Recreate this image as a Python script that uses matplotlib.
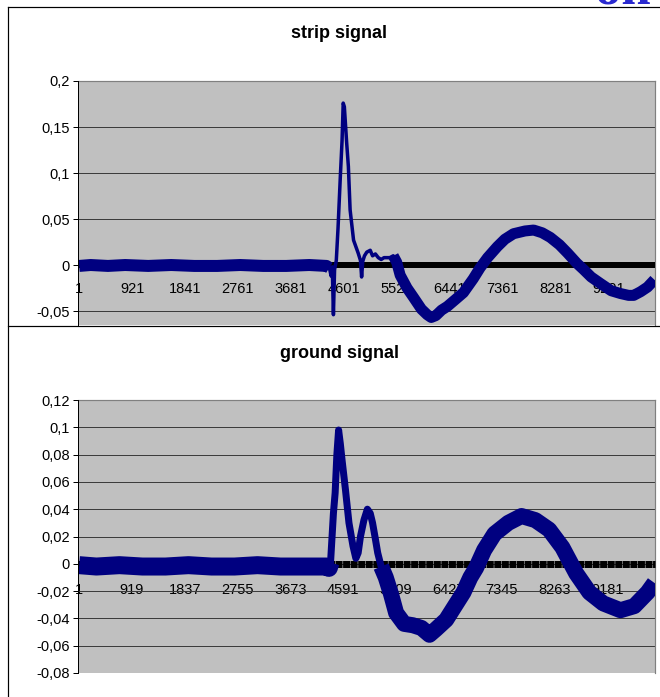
import matplotlib
matplotlib.use('Agg')
import matplotlib.pyplot as plt
from matplotlib.lines import Line2D

# ---------------- data ----------------
strip_idx = [1, 200, 500, 800, 1200, 1600, 2000, 2400, 2800, 3200, 3600, 4000, 4300,
             4350, 4380, 4400, 4420, 4440, 4470, 4500, 4540, 4570, 4590, 4610, 4650,
             4680, 4710, 4770, 4850, 4890, 4910, 4930, 4960, 5000, 5060, 5100, 5150,
             5200, 5250, 5300, 5400, 5460, 5520, 5580, 5700, 5810, 5950, 6050, 6120,
             6200, 6300, 6400, 6550, 6680, 6850, 6970, 7100, 7270, 7400, 7550, 7750,
             7900, 8050, 8190, 8350, 8490, 8650, 8770, 8900, 9060, 9250, 9410, 9550,
             9640, 9760, 9880, 10000]
strip_val = [-0.001, 0.000, -0.001, 0.000, -0.001, 0.000, -0.001, -0.001, 0.000, -0.001,
             -0.001, 0.000, -0.001,
             -0.003, -0.012, -0.002, -0.054, -0.005, 0.005, 0.040, 0.096, 0.135, 0.176,
             0.172, 0.133, 0.107, 0.060, 0.027, 0.013, 0.005, -0.013, 0.004, 0.010,
             0.014, 0.016, 0.010, 0.012, 0.008, 0.006, 0.008, 0.008, 0.010, 0.003,
             -0.011, -0.025, -0.035, -0.048, -0.054, -0.057, -0.055, -0.049, -0.045,
             -0.037, -0.030, -0.015, -0.003, 0.008, 0.020, 0.028, 0.034, 0.037, 0.038,
             0.035, 0.030, 0.022, 0.013, 0.002, -0.005, -0.013, -0.020, -0.028, -0.031,
             -0.033, -0.033, -0.029, -0.024, -0.016]

ground_idx = [1, 300, 700, 1100, 1500, 1900, 2300, 2700, 3100, 3500, 3900, 4300,
              4340, 4370, 4420, 4450, 4480, 4510, 4540, 4570, 4630, 4690, 4760, 4810,
              4850, 4890, 4950, 5010, 5060, 5100, 5150, 5190, 5250, 5330, 5420, 5510,
              5650, 5800, 5950, 6090, 6200, 6380, 6530, 6680, 6800, 6900, 7040, 7220,
              7460, 7690, 7930, 8170, 8400, 8640, 8870, 9110, 9410, 9650, 9880, 10000]
ground_val = [-0.001, -0.002, -0.001, -0.002, -0.002, -0.001, -0.002, -0.002, -0.001,
              -0.002, -0.002, -0.002,
              -0.003, 0.001, 0.037, 0.052, 0.080, 0.098, 0.088, 0.076, 0.054, 0.030,
              0.013, 0.004, 0.008, 0.020, 0.032, 0.040, 0.037, 0.030, 0.018, 0.008,
              -0.002, -0.010, -0.022, -0.036, -0.044, -0.045, -0.047, -0.052, -0.048,
              -0.041, -0.031, -0.021, -0.010, -0.003, 0.010, 0.022, 0.030, 0.035, 0.032,
              0.025, 0.012, -0.007, -0.021, -0.029, -0.034, -0.031, -0.021, -0.014]

strip_xticks = [1, 921, 1841, 2761, 3681, 4601, 5521, 6441, 7361, 8281, 9201]
ground_xticks = [1, 919, 1837, 2755, 3673, 4591, 5509, 6427, 7345, 8263, 9181]
strip_yticks = [-0.05, 0, 0.05, 0.1, 0.15, 0.2]
strip_ylabels = ['-0,05', '0', '0,05', '0,1', '0,15', '0,2']
ground_yticks = [-0.08, -0.06, -0.04, -0.02, 0, 0.02, 0.04, 0.06, 0.08, 0.1, 0.12]
ground_ylabels = ['-0,08', '-0,06', '-0,04', '-0,02', '0', '0,02', '0,04', '0,06',
                  '0,08', '0,1', '0,12']
titles = ['strip signal', 'ground signal']

# ---------------- figure ----------------
W, H = 660, 697
DPI = 100
plt.rcParams['font.family'] = ['Liberation Sans', 'DejaVu Sans']
fig = plt.figure(figsize=(W / DPI, H / DPI), dpi=DPI)
fig.patch.set_facecolor('white')

PX = 72.0 / DPI  # points per pixel
NAVY = '#000080'
GRID = '#3c3c3c'


def fx(px):
    return px / W


def fy(py):
    return 1 - py / H


def make_axes(top, bottom, ylim, yticks, ylabels, xticks, series_x, series_y,
              segments, zero_lw, zero_style, xpad):
    ax = fig.add_axes([fx(78), fy(bottom), (655 - 78) / W, (bottom - top) / H])
    ax.set_facecolor('#c0c0c0')
    ax.set_xlim(-20, 10010)
    ax.set_ylim(*ylim)
    ax.set_yticks(yticks)
    ax.set_yticklabels(ylabels)
    ax.set_xticks(xticks)
    ax.set_xticklabels([str(t) for t in xticks])
    ax.grid(axis='y', color=GRID, linewidth=1.0 * PX)
    ax.set_axisbelow(True)
    for s in ('top', 'right'):
        ax.spines[s].set_color('#808080')
        ax.spines[s].set_linewidth(1.2 * PX)
    ax.spines['left'].set_color('black')
    ax.spines['left'].set_linewidth(1.0 * PX)
    ax.spines['left'].set_zorder(5)
    ax.spines['bottom'].set_position(('data', 0))
    ax.spines['bottom'].set_color('black')
    ax.spines['bottom'].set_linewidth(zero_lw * PX)
    ax.spines['bottom'].set_linestyle(zero_style)
    ax.spines['bottom'].set_capstyle('butt')
    ax.spines['bottom'].set_zorder(2.5)
    ax.tick_params(axis='y', direction='out', length=5 * PX, width=1 * PX,
                   pad=2.5, labelsize=10.5, colors='black')
    ax.tick_params(axis='x', length=0, pad=xpad, labelsize=10.5, colors='black')
    for a, b, lw in segments:
        xs = [x for x in series_x if a <= x <= b]
        ys = [y for x, y in zip(series_x, series_y) if a <= x <= b]
        ax.plot(xs, ys, color=NAVY, linewidth=lw * PX, zorder=3,
                solid_joinstyle='round', solid_capstyle='butt', clip_on=True)
    return ax


ax1 = make_axes(81, 325, (-0.0652, 0.2), strip_yticks, strip_ylabels, strip_xticks,
                strip_idx, strip_val,
                [(1, 4350, 12), (4300, 5520, 3.5), (5460, 10000, 11)],
                6, 'solid', 12.5)

ax2 = make_axes(400, 673, (-0.08, 0.12), ground_yticks, ground_ylabels, ground_xticks,
                ground_idx, ground_val,
                [(1, 4370, 18), (4340, 5330, 7), (5250, 10000, 16)],
                7, (0, (1.0, 0.08)), 13.5)


# ---------------- chart frames ----------------
def fline(x0, y0, x1, y1, color='black', lw=1.2):
    fig.add_artist(Line2D([fx(x0), fx(x1)], [fy(y0), fy(y1)], color=color,
                          linewidth=lw * PX, transform=fig.transFigure, zorder=10))


fline(7.5, 6.5, 660, 6.5)
fline(7.5, 6.5, 7.5, 697)
fline(7.5, 325.5, 660, 325.5)

# titles
fig.text(fx(339), fy(33), titles[0], ha='center', va='center', fontsize=13,
         fontweight='bold')
fig.text(fx(339), fy(353), titles[1], ha='center', va='center', fontsize=13,
         fontweight='bold')

# slide-title fragment, cut off at the top right edge as in the reference
fig.text(fx(595), fy(4.5), 'on', ha='left', va='baseline', fontsize=38,
         fontweight='bold', color='#2a2ad0', family=['Liberation Serif', 'DejaVu Serif'])

fig.savefig('out.png', dpi=DPI)
